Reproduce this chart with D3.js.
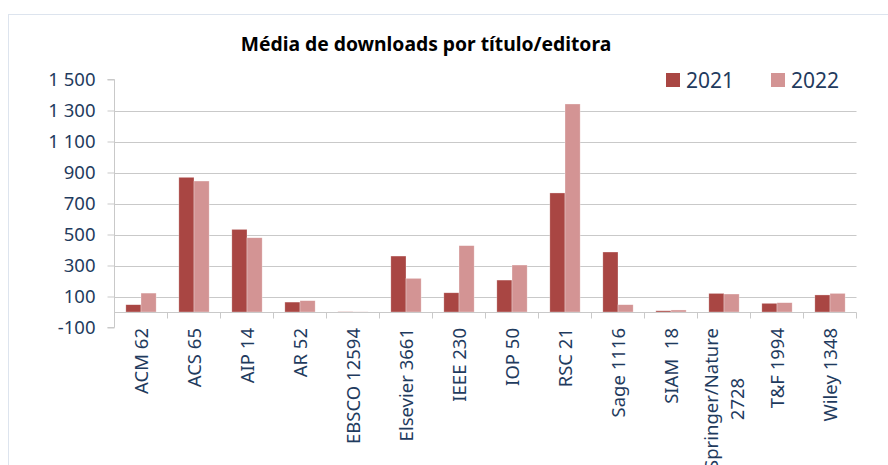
<!DOCTYPE html>
<html>
<head>
<meta charset="utf-8">
<script src="https://cdn.jsdelivr.net/npm/d3@7"></script>
<style>
  body { margin: 0; background: #fff; }
  text { font-family: "Noto Sans", "Open Sans", sans-serif; white-space: pre; }
</style>
</head>
<body>
<div id="chart"></div>
<script>
// categories (editora + nº de títulos), "\n" = line break in the label
var categories = ["ACM 62", "ACS 65", "AIP 14", "AR 52", "EBSCO 12594", "Elsevier 3661",
  "IEEE 230", "IOP 50", "RSC 21", "Sage 1116", "SIAM  18", "Springer/Nature\n2728",
  "T&F 1994", "Wiley 1348"];
var series = ["2021", "2022"];
var values2021 = [47, 869, 533, 64, 2, 361, 124, 206, 768, 387, 8, 120, 56, 110];
var values2022 = [122, 845, 479, 73, 1, 217, 428, 303, 1342, 47, 13, 116, 60, 120];
var yTicks = [-100, 100, 300, 500, 700, 900, 1100, 1300, 1500];
var colors = {"2021": "#a94643", "2022": "#d39494"};

var W = 888, H = 465;
var plot = {left: 114.5, right: 856.5, top: 79.5, bottom: 327.5};
var textColor = "#1f3b5e", gridColor = "#c9c9c9";

var svg = d3.select("#chart").append("svg")
    .attr("width", W)
    .attr("height", H);

// chart area border
svg.append("rect")
    .attr("x", 8.5).attr("y", 14.5)
    .attr("width", W).attr("height", H)
    .attr("fill", "#fff")
    .attr("stroke", "#dde4ee");

var x0 = d3.scaleBand()
    .domain(categories)
    .range([plot.left, plot.right]);

var x1 = d3.scaleBand()
    .domain(series)
    .range([0, x0.bandwidth()])
    .paddingOuter(0.75);

var y = d3.scaleLinear()
    .domain([-100, 1500])
    .range([plot.bottom, plot.top]);

var fmt = d3.formatLocale({decimal: ",", thousands: " ", grouping: [3], currency: ["", ""], minus: "-"}).format(",d");

// gridlines (none at the top value)
svg.append("g")
  .selectAll("line")
  .data(yTicks.filter(function(d) { return d > 0 && d < 1500; }))
  .join("line")
    .attr("x1", plot.left).attr("x2", plot.right)
    .attr("y1", function(d) { return Math.round(y(d)) + 0.5; })
    .attr("y2", function(d) { return Math.round(y(d)) + 0.5; })
    .attr("stroke", gridColor);

// y axis
var yAxis = d3.axisLeft(y)
    .tickValues(yTicks)
    .tickSize(7)
    .tickPadding(12)
    .tickFormat(fmt);

var gy = svg.append("g")
    .attr("transform", "translate(" + plot.left + ",0)")
    .call(yAxis);
gy.select(".domain").attr("stroke", gridColor).attr("d", "M-7," + plot.top + "H0V" + plot.bottom + "H-7");
gy.selectAll(".tick line").attr("stroke", gridColor);
gy.selectAll(".tick text")
    .attr("fill", textColor)
    .style("font-size", "18.5px");

// bars
var rows = categories.map(function(c, i) {
  return {cat: c, vals: [{s: "2021", v: values2021[i]}, {s: "2022", v: values2022[i]}]};
});

svg.append("g")
  .selectAll("g")
  .data(rows)
  .join("g")
    .attr("transform", function(d) { return "translate(" + x0(d.cat) + ",0)"; })
  .selectAll("rect")
  .data(function(d) { return d.vals; })
  .join("rect")
    .attr("x", function(d) { return x1(d.s); })
    .attr("width", x1.bandwidth())
    .attr("y", function(d) { return y(Math.max(0, d.v)); })
    .attr("height", function(d) { return Math.abs(y(d.v) - y(0)); })
    .attr("fill", function(d) { return colors[d.s]; })
    .attr("stroke", "#fff")
    .attr("stroke-opacity", 0.5)
    .attr("stroke-width", 0.6);

// category axis at zero, ticks between categories
var gx = svg.append("g")
    .attr("transform", "translate(0," + (Math.round(y(0)) + 0.5) + ")");
gx.append("line")
    .attr("x1", plot.left).attr("x2", plot.right)
    .attr("stroke", gridColor);
gx.selectAll(".sep")
  .data(categories.slice(1).concat(["end"]))
  .join("line")
    .attr("class", "sep")
    .attr("x1", function(d, i) { return i < categories.length - 1 ? x0(d) : plot.right; })
    .attr("x2", function(d, i) { return i < categories.length - 1 ? x0(d) : plot.right; })
    .attr("y1", 0).attr("y2", 6)
    .attr("stroke", gridColor);

// rotated category labels, multi-line centered on the longest line
var labels = svg.append("g")
  .selectAll("g")
  .data(categories)
  .join("g")
    .attr("transform", function(d) {
      return "translate(" + (x0(d) + x0.bandwidth() / 2) + "," + 328 + ") rotate(-90)";
    });

labels.each(function(d) {
  var g = d3.select(this);
  var lines = d.split("\n");
  var texts = g.selectAll("text")
    .data(lines)
    .join("text")
      .attr("fill", textColor)
      .style("font-size", "18.5px")
      .attr("text-anchor", "middle")
      .attr("dy", function(l, i) { return ((i - (lines.length - 1) / 2) * 1.42 + 0.36) + "em"; })
      .text(function(l) { return l; });
  var maxLen = d3.max(texts.nodes(), function(n) { return n.getComputedTextLength(); });
  texts.attr("x", -maxLen / 2);
});

// legend
var legendX = [666, 771];
var legend = svg.append("g")
  .selectAll("g")
  .data(series)
  .join("g")
    .attr("transform", function(d, i) { return "translate(" + legendX[i] + ",73)"; });
legend.append("rect")
    .attr("width", 14).attr("height", 14)
    .attr("fill", function(d) { return colors[d]; });
legend.append("text")
    .attr("x", 20).attr("y", 14.5)
    .attr("fill", textColor)
    .style("font-size", "21px")
    .text(function(d) { return d; });

// title
svg.append("text")
    .attr("x", 426).attr("y", 51)
    .attr("text-anchor", "middle")
    .attr("fill", "#000")
    .style("font-size", "19.3px")
    .style("font-weight", "bold")
    .text("Média de downloads por título/editora");
</script>
</body>
</html>
